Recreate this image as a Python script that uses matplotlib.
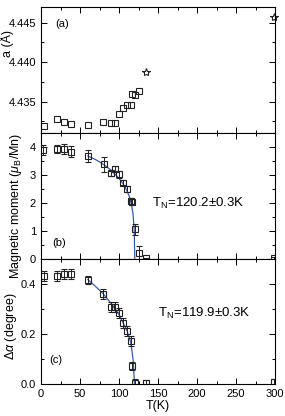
import numpy as np
import matplotlib.pyplot as plt
from matplotlib.ticker import MultipleLocator

plt.rcParams['font.family'] = ['Liberation Sans', 'DejaVu Sans']
plt.rcParams['mathtext.fontset'] = 'custom'
plt.rcParams['mathtext.rm'] = 'Liberation Sans'
plt.rcParams['mathtext.it'] = 'Liberation Sans:italic'

# (a) lattice parameter
a_T = [4, 20, 30, 39, 60, 80, 90, 95, 100, 105, 110, 115, 117, 120, 125]
a_val = [4.4319, 4.4328, 4.4324, 4.4321, 4.4320, 4.4324, 4.4323, 4.4323,
         4.4334, 4.4342, 4.4346, 4.4346, 4.4360, 4.4358, 4.4363]
a_star_T = [135, 299]
a_star_val = [4.4388, 4.4457]

# (b) magnetic moment
m_T = [3, 20, 30, 39, 60, 81, 90, 95, 100, 105, 110, 115, 117, 120, 125, 135, 299]
m_val = [3.89, 3.92, 3.92, 3.83, 3.68, 3.38, 3.06, 3.21, 3.02, 2.73, 2.49,
         2.07, 2.04, 1.06, 0.22, 0.02, 0.02]
m_err = [0.18, 0.15, 0.17, 0.2, 0.22, 0.27, 0.1, 0.1, 0.12, 0.1, 0.1,
         0.12, 0.12, 0.2, 0.25, 0.02, 0.05]
m_fit_T = [60, 70, 80, 90, 100, 105, 110, 113, 116, 118, 119.5, 120.2]
m_fit_val = [3.68, 3.55, 3.38, 3.17, 2.88, 2.70, 2.45, 2.25, 1.95, 1.60, 1.05, 0.0]

# (c) angle
d_T = [4, 20, 30, 39, 60, 80, 90, 95, 100, 105, 110, 115, 117, 120, 135, 299]
d_val = [0.433, 0.433, 0.439, 0.439, 0.416, 0.359, 0.309, 0.309, 0.283, 0.243,
         0.212, 0.172, 0.072, 0.005, 0.004, 0.008]
d_err = [0.02, 0.02, 0.02, 0.02, 0.015, 0.02, 0.02, 0.02, 0.02, 0.02,
         0.02, 0.02, 0.015, 0.015, 0.012, 0.012]
d_fit_T = [60, 70, 80, 90, 100, 110, 115, 118, 119.9]
d_fit_val = [0.418, 0.39, 0.36, 0.322, 0.278, 0.215, 0.168, 0.10, 0.0]

fig = plt.figure(figsize=(2.85, 4.16), dpi=100)
left, right = 41 / 285, 275 / 285
tops = [7, 133, 259, 384]
axes = []
for i in range(3):
    b = 1 - tops[i + 1] / 416
    h = (tops[i + 1] - tops[i]) / 416
    ax = fig.add_axes([left, b, right - left, h])
    axes.append(ax)

mk = dict(marker='s', ms=4.5, mfc='none', mec='#222222', mew=0.8, ls='none')
fit_c = '#3b5ba5'


def lab_x(px):
    return (px - 41) / 234


ax = axes[0]
ax.plot(a_T, a_val, clip_on=False, **mk)
ax.plot(a_star_T, a_star_val, marker='*', ms=6, mfc='none', mec='#222222',
        mew=0.8, ls='none', clip_on=False)
ax.set_ylim(4.431, 4.447)
ax.yaxis.set_major_locator(MultipleLocator(0.005))
ax.yaxis.set_minor_locator(MultipleLocator(0.0025))
ax.set_ylabel('a (Å)', fontsize=9)
ax.yaxis.set_label_coords(lab_x(14), 0.71)
ax.text(18, 4.4448, '(a)', fontsize=8, va='center')

ax = axes[1]
ax.plot(m_fit_T, m_fit_val, color=fit_c, lw=0.9)
ax.errorbar(m_T, m_val, yerr=m_err, ecolor='#222222', elinewidth=0.7,
            capsize=2, capthick=0.7, **mk)
ax.set_ylim(0, 4.5)
ax.yaxis.set_major_locator(MultipleLocator(1))
ax.yaxis.set_minor_locator(MultipleLocator(0.5))
ax.set_ylabel(r'Magnetic moment ($\mu_\mathrm{B}$/Mn)', fontsize=9)
ax.yaxis.set_label_coords(lab_x(24), 0.42)
ax.text(14, 0.57, '(b)', fontsize=8, va='center')
ax.text(142, 2.0, r'T$_\mathrm{N}$=120.2$\pm$0.3K', fontsize=9.5, va='center')

ax = axes[2]
ax.plot(d_fit_T, d_fit_val, color=fit_c, lw=0.9)
ax.errorbar(d_T, d_val, yerr=d_err, ecolor='#222222', elinewidth=0.7,
            capsize=2, capthick=0.7, **mk)
ax.set_ylim(0, 0.5)
ax.yaxis.set_major_locator(MultipleLocator(0.2))
ax.yaxis.set_minor_locator(MultipleLocator(0.1))
ax.set_ylabel(r'$\Delta\alpha$ (degree)', fontsize=9)
ax.yaxis.set_label_coords(lab_x(19), 0.46)
ax.text(10, 0.096, '(c)', fontsize=8, va='center')
ax.text(150, 0.284, r'T$_\mathrm{N}$=119.9$\pm$0.3K', fontsize=9.5, va='center')
ax.set_xlabel('T(K)', fontsize=9, labelpad=1)

for i, ax in enumerate(axes):
    ax.set_xlim(0, 300)
    ax.xaxis.set_major_locator(MultipleLocator(50))
    ax.xaxis.set_minor_locator(MultipleLocator(25))
    ax.tick_params(which='both', direction='in', top=True, right=True,
                   labelsize=8, width=0.7)
    ax.tick_params(which='major', length=4)
    ax.tick_params(which='minor', length=2)
    for s in ax.spines.values():
        s.set_linewidth(0.8)
    if i < 2:
        ax.tick_params(labelbottom=False)

fig.savefig('out.png', dpi=100)
